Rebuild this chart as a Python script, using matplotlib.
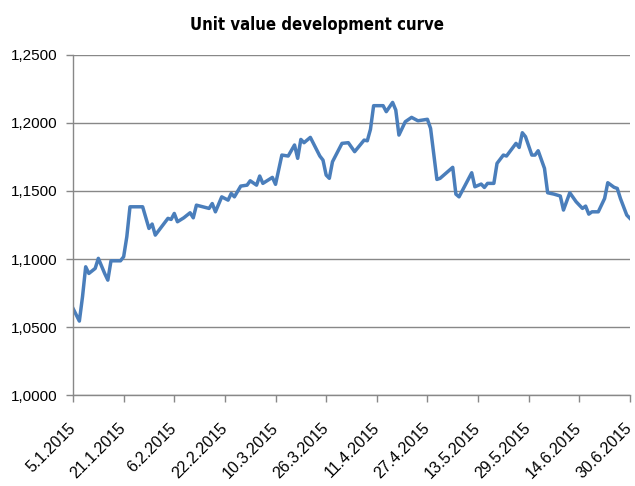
import numpy as np
import matplotlib
matplotlib.use('Agg')
import matplotlib.pyplot as plt
import matplotlib.ticker as mticker

# day offsets from 5.1.2015 and unit values
days = [0, 2, 3, 4, 5, 7, 8, 10, 11, 12, 15, 16, 17, 18, 22, 24, 25, 26, 30, 31,
        32, 33, 35, 37, 38, 39, 43, 44, 45, 47, 49, 50, 51, 53, 55, 56, 58, 59, 60, 63,
        64, 66, 68, 70, 71, 72, 73, 75, 78, 79, 80, 81, 82, 85, 87, 89, 92, 93, 94, 95,
        98, 99, 101, 102, 103, 105, 107, 109, 112, 113, 115, 116, 120, 121, 122, 126, 127, 129, 130, 131,
        133, 134, 136, 137, 140, 141, 142, 143, 145, 146, 147, 149, 150, 152, 154, 155, 157, 159, 161, 162,
        163, 164, 166, 168, 169, 171, 172, 173, 175, 176]
values = [1.0637, 1.0544, 1.0723, 1.0943, 1.0894, 1.0931, 1.1005, 1.0894, 1.0845, 1.0987,
          1.0987, 1.1017, 1.1164, 1.1384, 1.1384, 1.1225, 1.1257, 1.1176, 1.1299, 1.1291,
          1.1335, 1.1274, 1.1303, 1.1340, 1.1303, 1.1396, 1.1372, 1.1408, 1.1347, 1.1457,
          1.1433, 1.1482, 1.1457, 1.1536, 1.1543, 1.1575, 1.1543, 1.1610, 1.1556, 1.1600,
          1.1549, 1.1764, 1.1757, 1.1838, 1.1740, 1.1879, 1.1855, 1.1894, 1.1757, 1.1727,
          1.1617, 1.1593, 1.1715, 1.1850, 1.1855, 1.1789, 1.1874, 1.1869, 1.1953, 1.2127,
          1.2127, 1.2083, 1.2151, 1.2095, 1.1911, 1.2009, 1.2041, 1.2016, 1.2027, 1.1960,
          1.1585, 1.1593, 1.1674, 1.1477, 1.1457, 1.1634, 1.1531, 1.1551, 1.1526, 1.1556,
          1.1556, 1.1703, 1.1764, 1.1757, 1.1850, 1.1820, 1.1928, 1.1899, 1.1764, 1.1764,
          1.1796, 1.1666, 1.1487, 1.1477, 1.1463, 1.1360, 1.1487, 1.1421, 1.1372, 1.1389,
          1.1330, 1.1347, 1.1347, 1.1445, 1.1561, 1.1527, 1.1519, 1.1445, 1.1323, 1.1299]
tick_labels = ['5.1.2015', '21.1.2015', '6.2.2015', '22.2.2015', '10.3.2015', '26.3.2015',
               '11.4.2015', '27.4.2015', '13.5.2015', '29.5.2015', '14.6.2015', '30.6.2015']

start = np.datetime64('2015-01-05')
dates = start + np.array(days, dtype='timedelta64[D]')
ticks = start + np.arange(0, 177, 16).astype('timedelta64[D]')

fig = plt.figure(figsize=(6.35, 4.86), dpi=100)
ax = fig.add_axes([0.115, 0.187, 0.877, 0.70])

ax.plot(dates, values, color='#4A7EBB', linewidth=2.5, solid_joinstyle='round')

ax.set_xlim(start, start + np.timedelta64(176, 'D'))
ax.set_ylim(1.0, 1.25)
ax.set_yticks(np.arange(1.0, 1.2501, 0.05))
ax.yaxis.set_major_formatter(mticker.FuncFormatter(lambda v, p: ('%.4f' % v).replace('.', ',')))
ax.set_xticks(ticks)
ax.set_xticklabels(tick_labels, rotation=45, ha='right', va='center',
                   rotation_mode='anchor', fontsize=11.5, family='Liberation Sans')
for lab in ax.get_yticklabels():
    lab.set_fontfamily('Liberation Sans')
    lab.set_fontsize(11)

ax.grid(axis='y', color='#888888', linewidth=1)
ax.set_axisbelow(True)
for s in ['top', 'right']:
    ax.spines[s].set_visible(False)
for s in ['left', 'bottom']:
    ax.spines[s].set_color('#888888')
    ax.spines[s].set_linewidth(1)
ax.tick_params(axis='both', color='#888888', length=5, width=1)
ax.tick_params(axis='y', pad=6)
ax.tick_params(axis='x', pad=17)

fig.text(0.5, 0.949, 'Unit value development curve', ha='center', va='center',
         fontsize=12, fontweight='bold', fontstretch='condensed', family='DejaVu Sans')

fig.savefig('out.png', dpi=100)
